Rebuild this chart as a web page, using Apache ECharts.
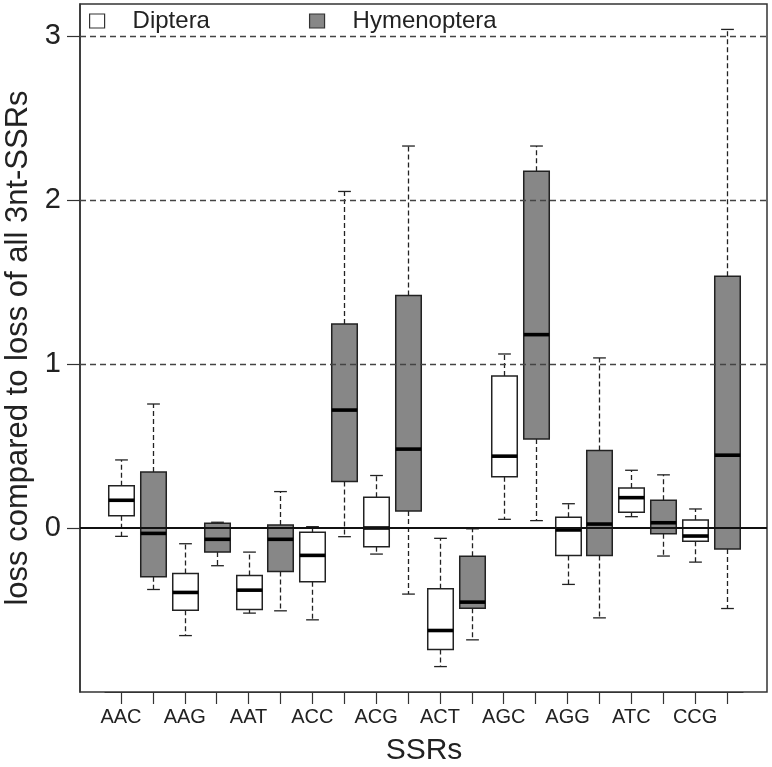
<!DOCTYPE html>
<html><head><meta charset="utf-8">
<script src="https://cdn.jsdelivr.net/npm/echarts@6/dist/echarts.min.js"></script>
<style>html,body{margin:0;padding:0;background:#fff}#c{width:772px;height:767px}</style>
</head><body><div id="c"></div>
<script>
// ---- data ----
const categories = ['AAC','AAG','AAT','ACC','ACG','ACT','AGC','AGG','ATC','CCG'];
const groups = ['Diptera','Hymenoptera'];
// Diptera box statistics
const dipteraMin    = [-0.051,-0.656,-0.519,-0.560,-0.159,-0.845, 0.053,-0.344, 0.069,-0.208];
const dipteraQ1     = [ 0.075,-0.501,-0.497,-0.328,-0.114,-0.741, 0.312,-0.167, 0.096,-0.081];
const dipteraMedian = [ 0.169,-0.393,-0.379,-0.167, 0.000,-0.625, 0.438,-0.012, 0.185,-0.049];
const dipteraQ3     = [ 0.257,-0.277,-0.289,-0.026, 0.187,-0.371, 0.927, 0.065, 0.244, 0.049];
const dipteraMax    = [ 0.415,-0.096,-0.147, 0.008, 0.320,-0.063, 1.061, 0.148, 0.352, 0.116];
// Hymenoptera box statistics
const hymenMin      = [-0.375,-0.230,-0.505,-0.053,-0.403,-0.682, 0.045,-0.548,-0.171,-0.491];
const hymenQ1       = [-0.297,-0.147,-0.265, 0.283, 0.104,-0.489, 0.542,-0.167,-0.035,-0.128];
const hymenMedian   = [-0.033,-0.069,-0.069, 0.719, 0.481,-0.452, 1.179, 0.024, 0.032, 0.444];
const hymenQ3       = [ 0.342, 0.029, 0.018, 1.244, 1.417,-0.173, 2.175, 0.472, 0.169, 1.535];
const hymenMax      = [ 0.756, 0.035, 0.222, 2.052, 2.329,-0.005, 2.329, 1.037, 0.324, 3.040];
// axis
const yTicks = [0, 1, 2, 3];
const dashedLevels = [1, 2, 3];
const yMin = -1.0, yMax = 3.195;

// ---- build ----
const FONT = "'Liberation Sans', Arial, Helvetica, sans-serif";
const slots = [];
categories.forEach(c => { slots.push(c + ' ' + groups[0]); slots.push(c + ' ' + groups[1]); });
const dipData = categories.map((c, i) => [2*i, dipteraMin[i], dipteraQ1[i], dipteraMedian[i], dipteraQ3[i], dipteraMax[i]]);
const hymData = categories.map((c, i) => [2*i+1, hymenMin[i], hymenQ1[i], hymenMedian[i], hymenQ3[i], hymenMax[i]]);

function makeRender(fill) {
  return function (params, api) {
    const x = api.value(0);
    const lo = api.coord([x, api.value(1)]);
    const q1 = api.coord([x, api.value(2)]);
    const md = api.coord([x, api.value(3)]);
    const q3 = api.coord([x, api.value(4)]);
    const hi = api.coord([x, api.value(5)]);
    const bw = api.size([1, 0])[0] * 0.8;
    const cx = Math.round(lo[0]) + 0.5, half = bw / 2, cap = bw / 4;
    const dash = {stroke: '#222', lineWidth: 1.3, lineDash: [5, 3]};
    const solid = {stroke: '#222', lineWidth: 1.3};
    return {type: 'group', children: [
      {type: 'line', shape: {x1: cx, y1: q3[1], x2: cx, y2: hi[1]}, style: dash},
      {type: 'line', shape: {x1: cx, y1: q1[1], x2: cx, y2: lo[1]}, style: dash},
      {type: 'line', shape: {x1: cx - cap, y1: hi[1], x2: cx + cap, y2: hi[1]}, style: solid},
      {type: 'line', shape: {x1: cx - cap, y1: lo[1], x2: cx + cap, y2: lo[1]}, style: solid},
      {type: 'rect', shape: {x: cx - half, y: q3[1], width: bw, height: q1[1] - q3[1]},
        style: {fill: fill, stroke: '#222', lineWidth: 1.5}},
      {type: 'line', shape: {x1: cx - half, y1: md[1], x2: cx + half, y2: md[1]},
        style: {stroke: '#000', lineWidth: 3.6}}
    ]};
  };
}

const chart = echarts.init(document.getElementById('c'), null, {renderer: 'canvas'});
chart.setOption({
  backgroundColor: '#fff',
  animation: false,
  grid: [
    {left: 80, right: 5, top: 4, bottom: 75, show: true, borderColor: '#333', borderWidth: 1.5,
      containLabel: false, outerBoundsMode: 'none'},
    {left: 105, right: 29, top: 4, bottom: 75, containLabel: false, outerBoundsMode: 'none'}
  ],
  legend: {
    left: 89, top: 9, padding: 0, itemWidth: 15, itemHeight: 14, itemGap: 99, icon: 'rect',
    textStyle: {fontSize: 24, fontFamily: FONT, color: '#222', padding: [0, 0, 0, 23]},
    data: [
      {name: 'Diptera', itemStyle: {color: '#fff', borderColor: '#333', borderWidth: 1.2}},
      {name: 'Hymenoptera', itemStyle: {color: '#878787', borderColor: '#333', borderWidth: 1.2}}
    ]
  },
  xAxis: [
    {type: 'value', gridIndex: 0, min: 0, max: 1, show: false},
    {type: 'category', gridIndex: 1, data: slots, boundaryGap: true,
      axisLine: {show: true, onZero: false, lineStyle: {color: '#333', width: 1.2}},
      axisTick: {show: true, alignWithLabel: true, interval: 0, length: 12, lineStyle: {color: '#333', width: 1.2}},
      axisLabel: {interval: 0, margin: 15, fontSize: 20, fontFamily: FONT, color: '#222',
        formatter: (v, i) => (i % 2 === 0 ? categories[i / 2] : '')},
      name: 'SSRs', nameLocation: 'middle', nameGap: 44,
      nameTextStyle: {fontSize: 30, fontFamily: FONT, color: '#222'}
    }
  ],
  yAxis: [
    {type: 'value', gridIndex: 0, min: yMin, max: yMax, interval: 1,
      axisLine: {show: true, onZero: false, lineStyle: {color: '#333', width: 1.5}},
      axisTick: {show: true, length: 13, customValues: yTicks, lineStyle: {color: '#333', width: 1.2}},
      axisLabel: {fontSize: 29, fontFamily: FONT, color: '#222', margin: 19, customValues: yTicks},
      splitLine: {show: false},
      name: 'loss compared to loss of all 3nt-SSRs', nameLocation: 'middle', nameRotate: 90, nameGap: 43,
      nameTextStyle: {fontSize: 31, fontFamily: FONT, color: '#222'}
    },
    {type: 'value', gridIndex: 1, min: yMin, max: yMax, show: false, splitLine: {show: false}}
  ],
  series: [
    {name: 'Diptera', type: 'custom', xAxisIndex: 1, yAxisIndex: 1, z: 2,
      itemStyle: {color: '#fff', borderColor: '#333'},
      encode: {x: 0, y: [1, 2, 3, 4, 5]}, renderItem: makeRender('#ffffff'), data: dipData},
    {name: 'Hymenoptera', type: 'custom', xAxisIndex: 1, yAxisIndex: 1, z: 2,
      itemStyle: {color: '#878787', borderColor: '#333'},
      encode: {x: 0, y: [1, 2, 3, 4, 5]}, renderItem: makeRender('#878787'), data: hymData},
    {name: 'ref', type: 'line', xAxisIndex: 0, yAxisIndex: 0, z: 5, data: [],
      markLine: {silent: true, symbol: 'none', label: {show: false}, animation: false,
        data: [{yAxis: 0, lineStyle: {type: 'solid', width: 2.2, color: '#111'}}].concat(
          dashedLevels.map(v => ({yAxis: v, lineStyle: {type: [6, 4], width: 1.3, color: '#444'}})))
      }}
  ]
});
</script>
</body></html>
